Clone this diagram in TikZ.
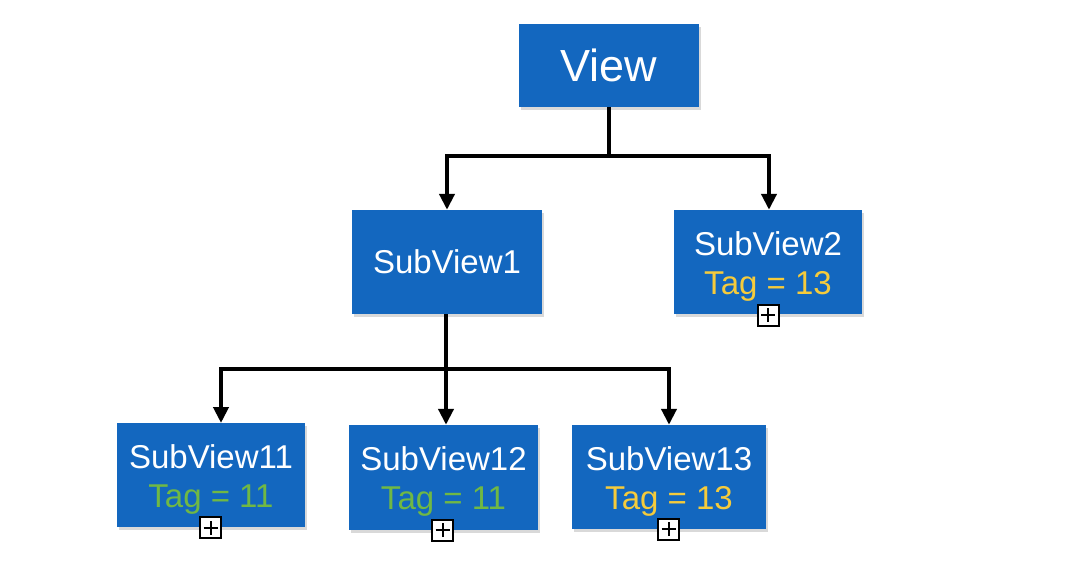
\documentclass[tikz,border=0pt]{standalone}
\usepackage{fontspec}
\setmainfont{Liberation Sans}
\usetikzlibrary{arrows.meta,shadows}
\definecolor{boxblue}{RGB}{19,103,191}
\definecolor{taggreen}{RGB}{112,184,68}
\definecolor{tagyellow}{RGB}{245,203,60}
\newcommand{\topstrut}{\rule{0pt}{32pt}}
\tikzset{
  vbox/.style={fill=boxblue, text=white, inner sep=0pt, align=center,
    font=\fontsize{33}{39}\selectfont,
    drop shadow={opacity=0.3, shadow xshift=2pt, shadow yshift=-3pt}},
  conn/.style={line width=4pt, draw=black, line join=miter},
  arr/.style={conn, -{Triangle[width=15pt,length=16pt]}},
  plusbox/.style={draw=black, fill=white, line width=2pt, minimum size=21pt, inner sep=0pt},
  plusline/.style={line width=2pt, draw=black}
}
\newcommand{\plusmark}[2]{%
  \node[plusbox] (#1) at #2 {};
  \draw[plusline] ([xshift=-7pt]#1.center) -- ([xshift=7pt]#1.center);
  \draw[plusline] ([yshift=-7pt]#1.center) -- ([yshift=7pt]#1.center);
}
\begin{document}
\begin{tikzpicture}[x=1pt,y=-1pt]
\useasboundingbox (0,0) rectangle (1090,566);

\node[vbox, minimum width=180pt, minimum height=83pt, font=\fontsize{45}{48}\selectfont] (view) at (609,65.5) {View};
\node[vbox, minimum width=190pt, minimum height=104pt] (sv1) at (447,262) {SubView1};
\node[vbox, minimum width=188pt, minimum height=104pt] (sv2) at (768,262) {\topstrut SubView2\\\textcolor{tagyellow}{Tag = 13}};
\node[vbox, minimum width=188pt, minimum height=104pt] (sv11) at (211,475) {\topstrut SubView11\\\textcolor{taggreen}{Tag = 11}};
\node[vbox, minimum width=189pt, minimum height=105pt] (sv12) at (443.5,477.5) {\topstrut SubView12\\\textcolor{taggreen}{Tag = 11}};
\node[vbox, minimum width=194pt, minimum height=104pt] (sv13) at (669,477) {\topstrut SubView13\\\textcolor{tagyellow}{Tag = 13}};

% connectors level 1
\coordinate (j1) at (609,156);
\draw[conn] (view.south) -- (j1);
\draw[arr] (j1) -| (sv1.north);
\draw[arr] (j1) -| ([xshift=1pt]sv2.north);

% connectors level 2
\coordinate (j2) at (446,369);
\coordinate (t11) at (221,423);
\draw[conn] (sv1.south -| j2) -- (j2);
\draw[arr] (j2) -| (t11);
\draw[arr] (j2) -- (j2 |- sv12.north);
\draw[arr] (j2) -| (sv13.north);

% plus marks
\plusmark{p2}{(768,315)}
\plusmark{p11}{(210.5,527.5)}
\plusmark{p12}{(442.5,530)}
\plusmark{p13}{(668.5,529)}
\end{tikzpicture}
\end{document}
